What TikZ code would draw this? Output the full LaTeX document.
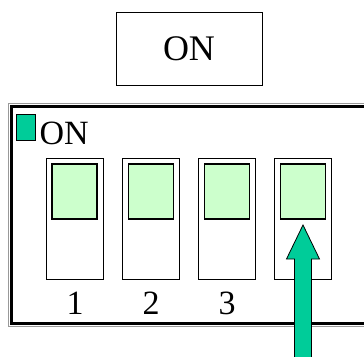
\documentclass[tikz,border=0pt]{standalone}
\usepackage{fontspec}
\setmainfont{Liberation Serif}
\definecolor{tealgreen}{RGB}{0,204,153}
\definecolor{lightgreen}{RGB}{204,255,204}
\tikzset{
  switchbox/.style={draw=black,line width=1pt,fill=white,minimum width=57pt,minimum height=121pt,inner sep=0pt},
  knob/.style={draw=black,line width=1.2pt,fill=lightgreen,minimum width=45pt,minimum height=55pt,inner sep=0pt},
  numlabel/.style={anchor=base,inner sep=0pt,font=\fontsize{34}{34}\selectfont},
}
\begin{document}
\begin{tikzpicture}[x=1pt,y=-1pt]
\useasboundingbox (0,0) rectangle (364,356);
\clip (0,0) rectangle (364,356);
\node[draw,line width=1pt,minimum width=146pt,minimum height=73pt,inner sep=0pt,font=\fontsize{36}{36}\selectfont] (title) at (189,48.5) {ON};
% frame
\draw[black!40,line width=1pt] (8.5,103.5) rectangle (380,326.5);
\draw[black,line width=2.5pt] (11.5,106.5) rectangle (380,323.5);
% legend
\node[draw=black,line width=0.8pt,fill=tealgreen,minimum width=19pt,minimum height=26pt,inner sep=0pt] (legend) at (25.5,127) {};
\node[anchor=base west,inner sep=0pt,font=\fontsize{34}{34}\selectfont] (onlabel) at (39.5,144) {ON};
% switches
\foreach \i/\x in {1/74.5,2/151,3/227,4/303}{
  \node[switchbox] (s\i) at (\x,218.5) {};
  \node[knob] (k\i) at (\x,191.5) {};
}
\node[numlabel] (n1) at (75,314) {1};
\node[numlabel] (n2) at (151,314) {2};
\node[numlabel] (n3) at (227,314) {3};
% arrow
\coordinate (tip) at (303,225);
\coordinate (tail) at (303,360);
\draw[black,line width=0.8pt,fill=tealgreen]
  (tip) -- ++(16.5,34) -- ++(-8,0) |- (tail) -- ++(-8.5,0) -- ++(0,-101) -- ++(-8,0) -- cycle;
\end{tikzpicture}
\end{document}
